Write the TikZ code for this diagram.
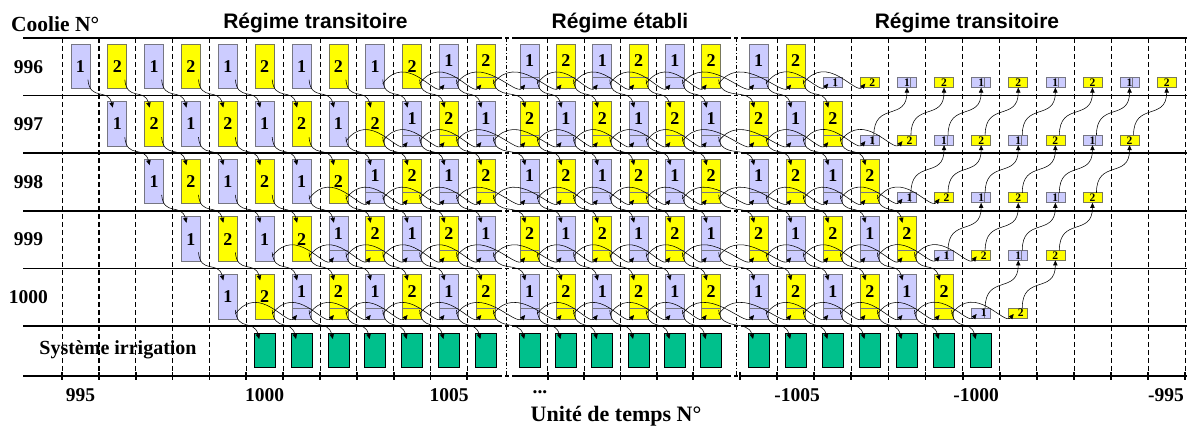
\documentclass[tikz,border=0pt]{standalone}
\usepackage{fontspec}
\setmainfont{Liberation Serif}
\setsansfont{Liberation Sans}
\usetikzlibrary{calc,arrows.meta}
\definecolor{cblue}{RGB}{204,204,255}
\definecolor{cyel}{RGB}{255,255,0}
\definecolor{cgreen}{RGB}{0,192,140}
\definecolor{cbord}{RGB}{118,118,130}
\definecolor{ybord}{RGB}{120,120,90}
\tikzset{
  box/.style={line width=0.7pt, minimum width=19pt, minimum height=44.6pt, inner sep=0pt, outer sep=0pt,
    font=\fontsize{18}{18}\selectfont\bfseries, text height=12pt, text depth=0pt},
  b1/.style={fill=cblue, draw=cbord},
  b2/.style={fill=cyel, draw=ybord},
  c0/.style={},
  c1/.style={text depth=11pt, path picture={\draw[draw=cbord, line width=0.6pt]
      ([yshift=11pt]path picture bounding box.south west) -- ([yshift=11pt]path picture bounding box.south east);}},
  sbox/.style={line width=0.6pt, minimum width=19pt, minimum height=10pt, inner sep=0pt, outer sep=0pt,
    font=\fontsize{11.5}{11.5}\selectfont\bfseries, text height=7.8pt, text depth=0pt},
  s1/.style={fill=cblue, draw=cbord, path picture={\draw[line width=0.6pt]
      ([xshift=3pt]path picture bounding box.north) -- ([xshift=3pt]path picture bounding box.south);}},
  s2/.style={fill=cyel, draw=ybord},
  gbox/.style={draw=black, line width=0.7pt, fill=cgreen, minimum width=21pt, minimum height=34pt, inner sep=0pt, outer sep=0pt},
  hline/.style={line width=1.6pt},
  axline/.style={line width=2.4pt},
  tick/.style={line width=1.8pt},
  vline/.style={line width=0.7pt, dash pattern=on 5pt off 3pt},
  vbold/.style={line width=1.4pt, dash pattern=on 5pt off 3pt},
  vbreak/.style={line width=1pt, dash pattern=on 4pt off 2pt on 1pt off 2pt},
  conn/.style={line width=0.55pt, -{Triangle[length=5pt,width=4.4pt]}},
  rowlab/.style={font=\fontsize{19.5}{20}\selectfont\bfseries, inner sep=0pt},
  axlab/.style={font=\fontsize{19.5}{20}\selectfont\bfseries, inner sep=0pt, anchor=base},
  head/.style={font=\fontsize{21}{22}\selectfont\sffamily\bfseries, inner sep=0pt, anchor=base},
}
\newcommand\dwn[2]{\draw[conn] ($(#1.south east)+(-2,9)$) .. controls +(2,-22) and +(-5,20) .. ($(#2.north west)+(5,-6)$);}
\newcommand\arcc[2]{\draw[conn] ($(#1.south east)+(-2,5)$) .. controls +(24,32) and +(-10,-12) .. ($(#2.south west)+(5,4)$);}
\newcommand\upp[2]{\draw[conn] ($(#1.north)+(4,0)$) .. controls +(0,34) and +(0,-34) .. (#2.south);}
\begin{document}
\begin{tikzpicture}[x=1pt,y=1pt]
\useasboundingbox (0,0) rectangle (1187,426);
% vertical dashed lines
\foreach \i in {0,3,4,...,11} \draw[vline] ({62+36.85*\i},388) -- ({62+36.85*\i},50);
\foreach \i in {1,2} \draw[vbold] ({62+36.85*\i},388) -- ({62+36.85*\i},50);
\foreach \i in {1,...,5} \draw[vline] ({511.5+36.3*\i},388) -- ({511.5+36.3*\i},50);
\foreach \i in {1,...,12} \draw[vline] ({740+37.1*\i},388) -- ({740+37.1*\i},50);
\draw[vbreak] (506.5,388) -- (506.5,50);
\draw[vbreak] (736,388) -- (736,50);
% horizontal lines
\foreach \yy in {388,330.4,272.8,215.2,157.6,100}{
  \draw[hline] (23,\yy) -- (502,\yy);
  \draw[hline] (505,\yy) -- (508.5,\yy);
  \draw[hline] (512,\yy) -- (731,\yy);
  \draw[hline] (734,\yy) -- (737.5,\yy);
  \draw[hline] (741,\yy) -- (1187,\yy);
}
% axis
\draw[axline] (23,50) -- (502,50);
\draw[axline] (505,50) -- (508.5,50);
\draw[axline] (512,50) -- (731,50);
\draw[axline] (734,50) -- (737.5,50);
\draw[axline] (741,50) -- (1187,50);
\foreach \i in {0,...,11} \draw[tick] ({62+36.85*\i},46) -- ({62+36.85*\i},54);
\foreach \i in {1,...,5} \draw[tick] ({511.5+36.3*\i},46) -- ({511.5+36.3*\i},54);
\foreach \i in {0,...,12} \draw[tick] ({740+37.1*\i},46) -- ({740+37.1*\i},54);
% texts
\node[anchor=base west, font=\fontsize{21.5}{22}\selectfont\bfseries, inner sep=0pt] (coolie) at (11,394) {Coolie N°};
\node[head] (rt1) at (315.5,397) {Régime transitoire};
\node[head] (re) at (620,397) {Régime établi};
\node[head] (rt2) at (967,397) {Régime transitoire};
\foreach \r/\t in {0/996,1/997,2/998,3/999,4/1000}
  \node[rowlab] (row\r) at (28.5,{359.2-57.6*\r}) {\t};
\node[anchor=base, font=\fontsize{20}{20}\selectfont\bfseries, inner sep=0pt] (irr) at (118,71) {Système irrigation};
\node[axlab] (a1) at (80.4,24.5) {995};
\node[axlab] (a2) at (264.7,24.5) {1000};
\node[axlab] (a3) at (449,24.5) {1005};
\node[axlab] (a4) at (540,32) {...};
\node[axlab] (a5) at (797,24.5) {-1005};
\node[axlab] (a6) at (976,24.5) {-1000};
\node[axlab] (a7) at (1166,24.5) {-995};
\node[anchor=base, font=\fontsize{22}{22}\selectfont\bfseries, inner sep=0pt] (unit) at (616,4) {Unité de temps N°};
% left section boxes
\foreach \r in {0,...,4}{
  \pgfmathsetmacro{\yc}{359.7-57.6*\r}
  \pgfmathtruncatemacro{\jc}{10-\r}
  \foreach \j in {\r,...,11}{
    \pgfmathtruncatemacro{\d}{mod(\j+\r,2)+1}
    \pgfmathtruncatemacro{\cc}{\j>=\jc ? 1 : 0}
    \pgfmathsetmacro{\xc}{62+36.85*(\j+0.5)}
    \node[box,b\d,c\cc] (L-\r-\j) at (\xc,\yc) {\d};
  }
}
% middle section boxes
\foreach \r in {0,...,4}{
  \pgfmathsetmacro{\yc}{359.7-57.6*\r}
  \foreach \m in {0,...,5}{
    \pgfmathtruncatemacro{\d}{mod(\m+\r,2)+1}
    \pgfmathsetmacro{\xc}{511.5+36.3*(\m+0.5)}
    \node[box,b\d,c1] (M-\r-\m) at (\xc,\yc) {\d};
  }
}
% right section boxes
\foreach \r in {0,...,4}{
  \pgfmathsetmacro{\yc}{359.7-57.6*\r}
  \pgfmathsetmacro{\ys}{343.4-57.6*\r}
  \pgfmathtruncatemacro{\kt}{1+\r}
  \foreach \k in {0,...,\kt}{
    \pgfmathtruncatemacro{\d}{mod(\k+\r,2)+1}
    \pgfmathsetmacro{\xc}{740+37.1*(\k+0.5)}
    \node[box,b\d,c1] (R-\r-\k) at (\xc,\yc) {\d};
  }
  \pgfmathtruncatemacro{\ka}{2+\r}
  \pgfmathtruncatemacro{\kb}{3+\r}
  \foreach \k in {\ka,\kb}{
    \pgfmathtruncatemacro{\d}{mod(\k+\r,2)+1}
    \pgfmathsetmacro{\xc}{740+37.1*(\k+0.5)}
    \node[sbox,s\d] (R-\r-\k) at (\xc,\ys) {\hspace*{5pt}\d};
  }
}
\foreach \r in {0,...,3}{
  \pgfmathsetmacro{\ys}{343.4-57.6*\r}
  \pgfmathtruncatemacro{\ka}{4+\r}
  \pgfmathtruncatemacro{\kb}{11-\r}
  \foreach \k in {\ka,...,\kb}{
    \pgfmathtruncatemacro{\d}{mod(\k+\r,2)+1}
    \pgfmathsetmacro{\xc}{740+37.1*(\k+0.5)}
    \node[sbox,s\d] (R-\r-\k) at (\xc,\ys) {\d};
  }
}
% irrigation boxes
\foreach \j in {5,...,11} \node[gbox] (GL-\j) at ({62+36.85*(\j+0.5)},76) {};
\foreach \m in {0,...,5} \node[gbox] (GM-\m) at ({511.5+36.3*(\m+0.5)},76) {};
\foreach \k in {0,...,6} \node[gbox] (GR-\k) at ({740+37.1*(\k+0.5)},76) {};
% diagonal arrows: left
\foreach \r in {0,...,3}{
  \pgfmathtruncatemacro{\rn}{\r+1}
  \foreach \j in {\r,...,10}{
    \pgfmathtruncatemacro{\jn}{\j+1}
    \dwn{L-\r-\j}{L-\rn-\jn}
  }
  \dwn{L-\r-11}{M-\rn-0}
}
\foreach \j in {4,...,10}{
  \pgfmathtruncatemacro{\jn}{\j+1}
  \dwn{L-4-\j}{GL-\jn}
}
\dwn{L-4-11}{GM-0}
% diagonal arrows: middle
\foreach \r in {0,...,3}{
  \pgfmathtruncatemacro{\rn}{\r+1}
  \foreach \m in {0,...,4}{
    \pgfmathtruncatemacro{\mn}{\m+1}
    \dwn{M-\r-\m}{M-\rn-\mn}
  }
  \dwn{M-\r-5}{R-\rn-0}
}
\foreach \m in {0,...,4}{
  \pgfmathtruncatemacro{\mn}{\m+1}
  \dwn{M-4-\m}{GM-\mn}
}
\dwn{M-4-5}{GR-0}
% diagonal arrows: right
\foreach \r in {0,...,3}{
  \pgfmathtruncatemacro{\rn}{\r+1}
  \pgfmathtruncatemacro{\kt}{\r+1}
  \foreach \k in {0,...,\kt}{
    \pgfmathtruncatemacro{\kn}{\k+1}
    \dwn{R-\r-\k}{R-\rn-\kn}
  }
}
\foreach \k in {0,...,5}{
  \pgfmathtruncatemacro{\kn}{\k+1}
  \dwn{R-4-\k}{GR-\kn}
}
% arcs within rows
\foreach \r in {0,...,4}{
  \pgfmathtruncatemacro{\js}{8-\r}
  \foreach \j in {\js,...,9}{
    \pgfmathtruncatemacro{\jn}{\j+2}
    \arcc{L-\r-\j}{L-\r-\jn}
  }
  \arcc{L-\r-10}{M-\r-0}
  \arcc{L-\r-11}{M-\r-1}
  \foreach \m in {0,...,3}{
    \pgfmathtruncatemacro{\mn}{\m+2}
    \arcc{M-\r-\m}{M-\r-\mn}
  }
  \arcc{M-\r-4}{R-\r-0}
  \arcc{M-\r-5}{R-\r-1}
  \pgfmathtruncatemacro{\kt}{\r+1}
  \foreach \k in {0,...,\kt}{
    \pgfmathtruncatemacro{\kn}{\k+2}
    \arcc{R-\r-\k}{R-\r-\kn}
  }
}
% upward arrows between small boxes
\foreach \r in {1,...,4}{
  \pgfmathtruncatemacro{\rp}{\r-1}
  \pgfmathtruncatemacro{\ka}{2+\r}
  \pgfmathtruncatemacro{\kb}{11-\r}
  \foreach \k in {\ka,...,\kb}{
    \pgfmathtruncatemacro{\kn}{\k+1}
    \upp{R-\r-\k}{R-\rp-\kn}
  }
}
\end{tikzpicture}
\end{document}
